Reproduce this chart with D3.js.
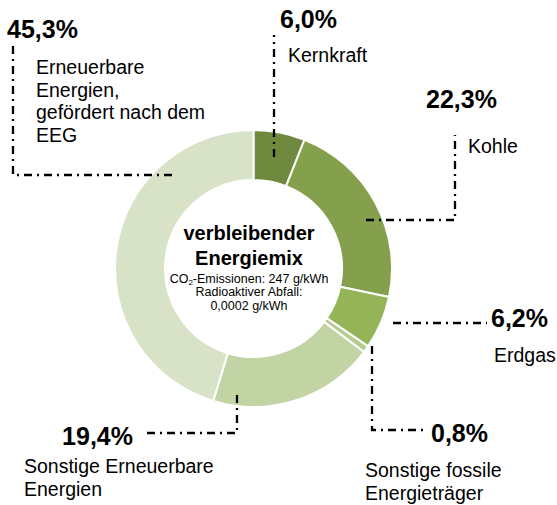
<!DOCTYPE html>
<html>
<head>
<meta charset="utf-8">
<script src="https://cdn.jsdelivr.net/npm/d3@7"></script>
<style>
  body { margin: 0; background: #fff; }
  svg { display: block; font-family: "Liberation Sans", Arial, sans-serif; }
</style>
</head>
<body>
<div id="chart"></div>
<script>
// data
const categories = ["Kernkraft", "Kohle", "Erdgas", "Sonstige fossile Energieträger",
    "Sonstige Erneuerbare Energien", "Erneuerbare Energien, gefördert nach dem EEG"];
const shares = [6.0, 22.3, 6.2, 0.8, 19.4, 45.3];
const labelLines = [
    ["Kernkraft"],
    ["Kohle"],
    ["Erdgas"],
    ["Sonstige fossile", "Energieträger"],
    ["Sonstige Erneuerbare", "Energien"],
    ["Erneuerbare", "Energien,", "gefördert nach dem", "EEG"]
];
const centerTitle = ["verbleibender", "Energiemix"];
const centerNotes = ["Radioaktiver Abfall:", "0,0002 g/kWh"];

const colors = ["#6f8a3f", "#85a04c", "#94b457", "#b4ca8e", "#c2d4a3", "#d8e2c6"];

// layout of percent labels, names and leader lines
const layout = [
    { pct: [280, 28], pctAnchor: "start", name: [288, 62], leader: [[274, 157], [274, 35]] },
    { pct: [426, 108], pctAnchor: "start", name: [468, 153], leader: [[366, 220], [455, 220], [455, 135]] },
    { pct: [491, 327], pctAnchor: "start", name: [494, 362], leader: [[393, 323], [487, 323]] },
    { pct: [431, 442], pctAnchor: "start", name: [365, 477], leader: [[372, 346], [372, 430], [424, 430]] },
    { pct: [133, 445], pctAnchor: "end", name: [24, 473], leader: [[237, 395], [237, 433], [147, 433]] },
    { pct: [7, 38], pctAnchor: "start", name: [36, 74], leader: [[172, 175], [13, 175], [13, 45]] }
];

const width = 557, height = 505;
const cx = 253.5, cy = 268.5, outerR = 138.5, innerR = 88.5;

const svg = d3.select("#chart").append("svg")
    .attr("width", width)
    .attr("height", height);

const fmt = v => d3.format(".1f")(v).replace(".", ",") + "%";

const pie = d3.pie().sort(null).value(d => d);
const arc = d3.arc().innerRadius(innerR).outerRadius(outerR);

const ring = svg.append("g").attr("transform", `translate(${cx},${cy})`);
ring.selectAll("path")
    .data(pie(shares))
    .join("path")
    .attr("d", arc)
    .attr("fill", (d, i) => colors[i])
    .attr("stroke", "#fff")
    .attr("stroke-width", 2);

// leader lines
const line = d3.line();
svg.append("g").selectAll("path")
    .data(layout)
    .join("path")
    .attr("d", d => line(d.leader))
    .attr("fill", "none")
    .attr("stroke", "#000")
    .attr("stroke-width", 2.3)
    .attr("stroke-dasharray", "8,5,2,5");

// percent labels
svg.append("g").selectAll("text")
    .data(shares)
    .join("text")
    .attr("x", (d, i) => layout[i].pct[0])
    .attr("y", (d, i) => layout[i].pct[1])
    .attr("text-anchor", (d, i) => layout[i].pctAnchor)
    .attr("font-size", 25)
    .attr("font-weight", "bold")
    .attr("fill", "#000")
    .text(d => fmt(d));

// category names
labelLines.forEach((lines, i) => {
    const t = svg.append("text")
        .attr("x", layout[i].name[0])
        .attr("y", layout[i].name[1])
        .attr("font-size", 19.5)
        .attr("fill", "#000");
    lines.forEach((s, j) => {
        t.append("tspan")
            .attr("x", layout[i].name[0])
            .attr("dy", j === 0 ? 0 : 22.5)
            .text(s);
    });
});

// centre text
const tx = 249;
svg.append("g").selectAll("text")
    .data(centerTitle)
    .join("text")
    .attr("x", tx)
    .attr("y", (d, i) => 240 + i * 25)
    .attr("text-anchor", "middle")
    .attr("font-size", 20)
    .attr("font-weight", "bold")
    .text(d => d);

const co2 = svg.append("text")
    .attr("x", tx)
    .attr("y", 282.5)
    .attr("text-anchor", "middle")
    .attr("font-size", 12.5);
co2.append("tspan").text("CO");
co2.append("tspan").attr("font-size", 8).attr("dy", 2).text("2");
co2.append("tspan").attr("dy", -2).text("-Emissionen: 247 g/kWh");

svg.append("g").selectAll("text")
    .data(centerNotes)
    .join("text")
    .attr("x", tx)
    .attr("y", (d, i) => 296 + i * 13.5)
    .attr("text-anchor", "middle")
    .attr("font-size", 12.5)
    .text(d => d);
</script>
</body>
</html>
